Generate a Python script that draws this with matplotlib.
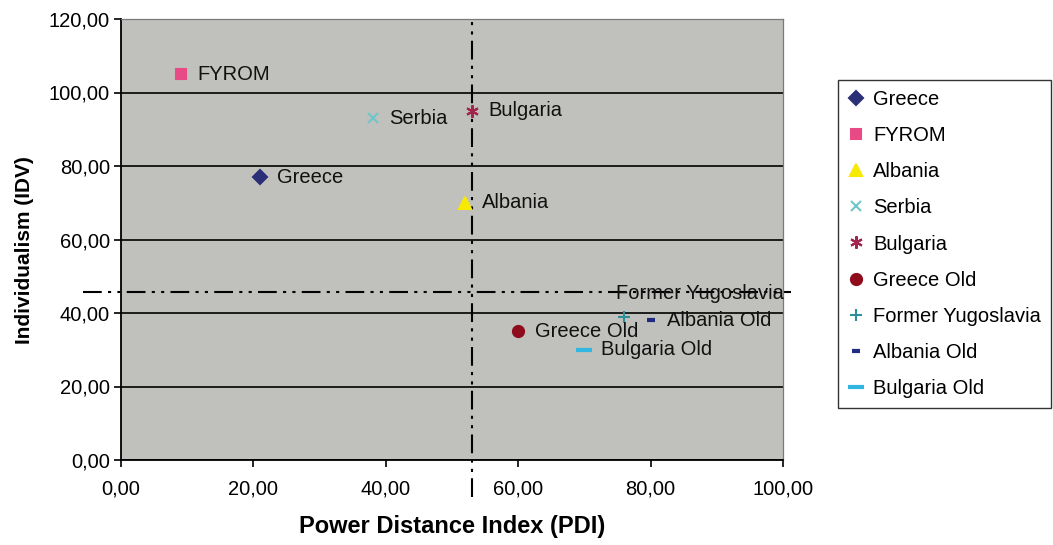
import matplotlib
matplotlib.use("Agg")
import matplotlib.pyplot as plt
from matplotlib.ticker import FuncFormatter, MultipleLocator

plt.rcParams['font.family'] = ['Liberation Sans', 'DejaVu Sans']

# Hofstede-style scores
countries = ["Greece", "FYROM", "Albania", "Serbia", "Bulgaria",
             "Greece Old", "Former Yugoslavia", "Albania Old", "Bulgaria Old"]
pdi = [21, 9, 52, 38, 53, 60, 76, 80, 70]
idv = [77, 105, 70, 93, 95, 35, 39, 38, 30]

# averages shown as the dash-dot reference lines
PDI_MEAN = 53
IDV_MEAN = 45.6

markers = ["D", "s", "^", "x", (6, 2, 0), "o", "+", "_", "_"]
colors = ["#2b2f78", "#e84a86", "#f7ea00", "#70c6c8", "#a3244f",
          "#8e0c1c", "#2e8e9a", "#1f2a80", "#30b6e0"]
sizes = [7, 7, 9, 7, 9, 8, 8, 6, 11]


def fmt(v, _):
    return f"{v:.2f}".replace(".", ",")


def main():
    fig = plt.figure(figsize=(10.53, 5.45), dpi=100)
    fig.patch.set_facecolor("white")
    ax = fig.add_axes([121/1053, 1-460/545, (783-121)/1053, (460-19)/545])
    ax.set_facecolor("#c0c0bc")

    ax.set_xlim(0, 100)
    ax.set_ylim(0, 120)
    ax.xaxis.set_major_locator(MultipleLocator(20))
    ax.yaxis.set_major_locator(MultipleLocator(20))
    ax.xaxis.set_major_formatter(FuncFormatter(fmt))
    ax.yaxis.set_major_formatter(FuncFormatter(fmt))
    ax.tick_params(axis="both", labelsize=14.5, length=5, width=1.2,
                   direction="out", colors="black")
    ax.tick_params(axis="x", pad=9)
    ax.tick_params(axis="y", pad=3)

    ax.yaxis.grid(True, color="black", lw=1.2)
    ax.set_axisbelow(True)

    for s in ["left", "bottom"]:
        ax.spines[s].set_color("black")
        ax.spines[s].set_linewidth(1.3)
    for s in ["top", "right"]:
        ax.spines[s].set_color("#7a7a7a")
        ax.spines[s].set_linewidth(0.9)

    dashdot = (0, (9, 3, 1.5, 3, 1.5, 3))
    ax.plot([PDI_MEAN, PDI_MEAN], [-10, 120.7], color="black", lw=1.5,
            ls=dashdot, clip_on=False, zorder=2)
    ax.plot([-5.7, 101.2], [IDV_MEAN, IDV_MEAN], color="black", lw=1.5,
            ls=dashdot, clip_on=False, zorder=2)

    for i, name in enumerate(countries):
        mew = 3 if markers[i] == "_" else 1.5
        ax.plot([pdi[i]], [idv[i]], ls="none", marker=markers[i],
                color=colors[i], markersize=sizes[i], markeredgewidth=mew,
                label=name, zorder=3)
        offset = (12, 0)
        if name == "Former Yugoslavia":
            offset = (-6, 17)
        ax.annotate(name, (pdi[i], idv[i]), xytext=offset,
                    textcoords="offset points", va="center", ha="left",
                    fontsize=14.5, color="#111111", zorder=4,
                    annotation_clip=False)

    ax.set_xlabel("Power Distance Index (PDI)", fontsize=17, fontweight="bold",
                  labelpad=12)
    ax.set_ylabel("Individualism (IDV)", fontsize=15, fontweight="bold")
    ax.yaxis.set_label_coords(-0.131, 0.476)

    leg = fig.legend(loc="upper left", bbox_to_anchor=(838/1053, 1-80/545),
                     fontsize=14.5, frameon=True, fancybox=False,
                     edgecolor="black", handlelength=0.8, handletextpad=0.45,
                     labelspacing=0.85, borderpad=0.5, borderaxespad=0)
    leg.get_frame().set_linewidth(1.0)

    fig.savefig("out.png", dpi=100)


if __name__ == "__main__":
    main()
